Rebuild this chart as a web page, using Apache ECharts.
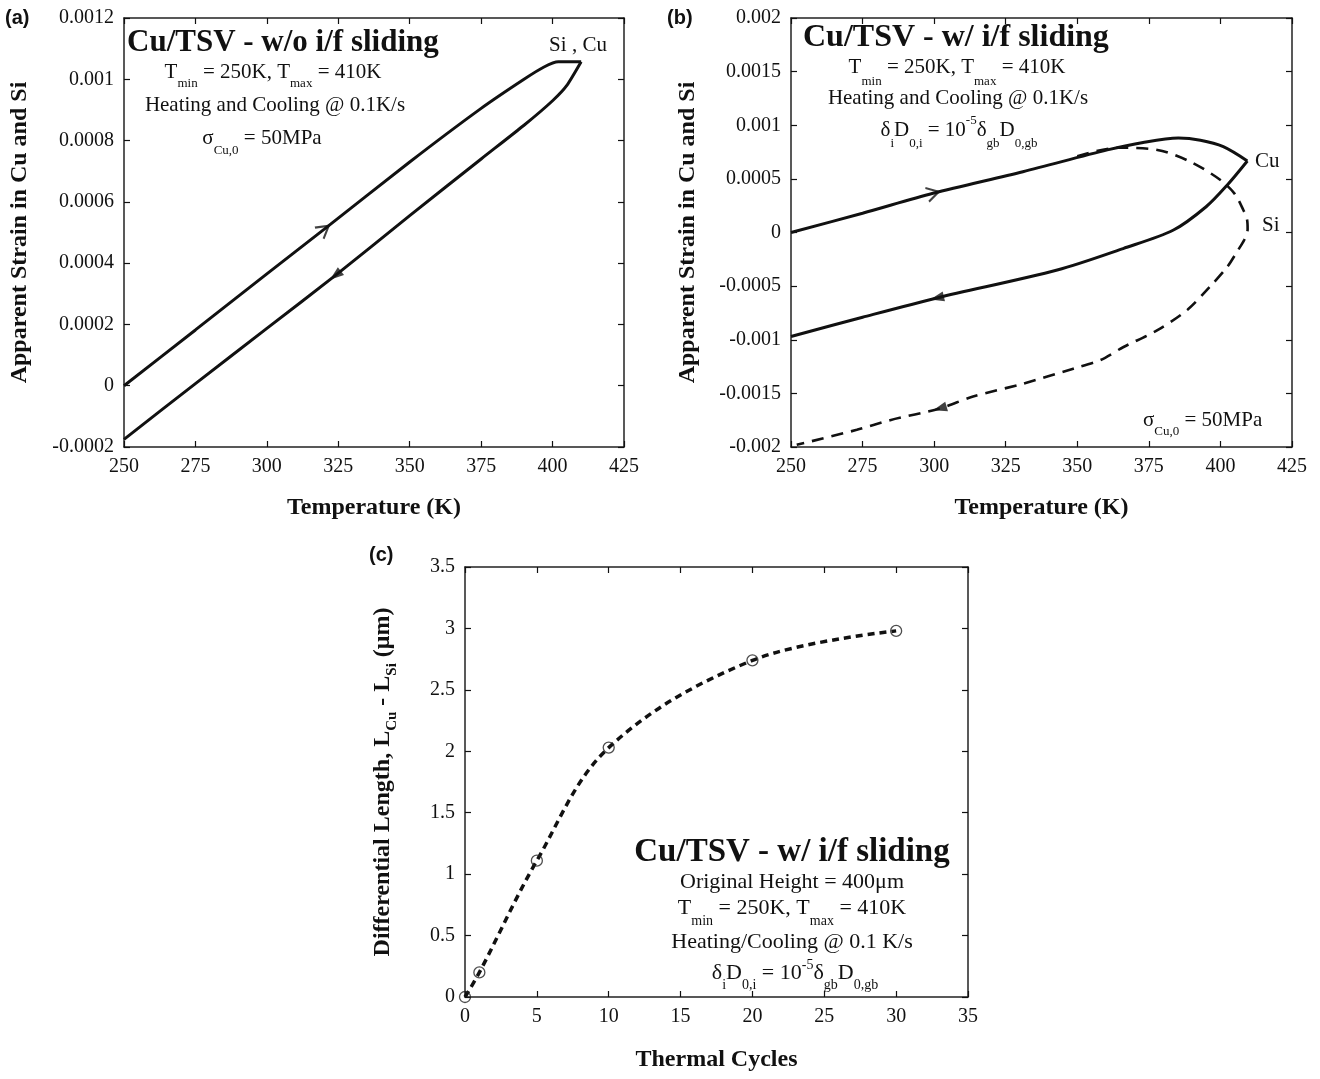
<!DOCTYPE html>
<html>
<head>
<meta charset="utf-8">
<script src="https://cdn.jsdelivr.net/npm/echarts@6/dist/echarts.min.js"></script>
<style>html,body{margin:0;padding:0;background:#fff}#c{width:1320px;height:1079px}</style>
</head>
<body>
<div id="c"></div>
<script>
// ---------- DATA ----------
// Panel (a): Cu/TSV without interface sliding
const aHeatT = [250, 275, 300, 320, 350, 375, 390, 397, 402, 410];
const aHeatS = [0, 0.000182, 0.000365, 0.00051, 0.00073, 0.000905, 0.001, 0.00104, 0.001057, 0.001057];
const aCoolT = [410, 405, 400, 390, 375, 350, 324, 300, 275, 250];
const aCoolS = [0.001057, 0.00098, 0.00093, 0.00085, 0.00074, 0.000555, 0.00036, 0.000187, 0.000007, -0.000175];
const aArrowHeat = [[320, 0.00051]];
const aArrowCool = [[324, 0.00036]];

// Panel (b): Cu/TSV with interface sliding
const bCuHeatT = [250, 275, 299.6, 331, 360.5, 373, 385.3, 393, 401, 409.4];
const bCuHeatS = [0, 0.00018, 0.000366, 0.000567, 0.00077, 0.00084, 0.00088, 0.00086, 0.0008, 0.000667];
const bCuCoolT = [409.4, 402.4, 395, 383.6, 366, 343, 301, 275, 250];
const bCuCoolS = [0.000667, 0.000443, 0.00024, 0.000023, -0.00015, -0.00035, -0.00061, -0.00079, -0.00097];
const bSiT = [350, 364, 378, 389.5, 400, 405, 408, 409.3, 409.5, 408.3, 406, 402.4, 396.5, 388.5, 378, 366, 358, 348.6, 331, 313.6, 302, 284.6, 273, 252];
const bSiS = [0.00071, 0.00079, 0.00077, 0.00066, 0.00049, 0.00036, 0.00021, 0.00012, 0.00003, -0.00007, -0.00017, -0.00032, -0.0005, -0.00072, -0.00091, -0.00107, -0.00119, -0.00127, -0.00141, -0.00153, -0.00164, -0.00175, -0.00184, -0.00198];
const bArrowCuHeat = [[299.6, 0.000366]];
const bArrowCuCool = [[301, -0.00061]];
const bArrowSi = [[302, -0.00164]];

// Panel (c): differential length vs thermal cycles
const cCycles = [0, 1, 5, 10, 20, 30];
const cLength = [0, 0.2, 1.11, 2.03, 2.74, 2.98];

// Axis ranges [min, max, interval]
const aXRange = [250, 425, 25], aYRange = [-0.0002, 0.0012, 0.0002];
const bXRange = [250, 425, 25], bYRange = [-0.002, 0.002, 0.0005];
const cXRange = [0, 35, 5], cYRange = [0, 3.5, 0.5];

// ---------- STYLE ----------
const SERIF = '"Liberation Serif","Times New Roman",serif';
const SANS = '"Liberation Sans",Arial,sans-serif';
const INK = '#111';

function zip(a, b) { return a.map((v, i) => [v, b[i]]); }
function fmt(v) { return String(parseFloat(v.toFixed(6))); }

function makeAxes(gi, xr, yr, xname, yname, xGap, yGap) {
  const tick = {inside: true, length: 6, lineStyle: {color: INK, width: 1.2}};
  const line = {show: true, onZero: false, lineStyle: {color: '#222', width: 1.5}};
  const lab = {fontFamily: SERIF, fontSize: 20, color: INK, margin: 10, formatter: fmt};
  const nameStyle = {fontFamily: SERIF, fontSize: 24, fontWeight: 'bold', color: INK};
  const common = {gridIndex: gi, type: 'value', splitLine: {show: false}, axisLine: line, axisTick: tick};
  const xs = [
    Object.assign({}, common, {position: 'bottom', min: xr[0], max: xr[1], interval: xr[2], axisLabel: lab,
      name: xname, nameLocation: 'middle', nameGap: xGap, nameTextStyle: nameStyle}),
    Object.assign({}, common, {position: 'top', min: xr[0], max: xr[1], interval: xr[2], axisLabel: {show: false}})
  ];
  const yMain = Object.assign({}, common, {position: 'left', min: yr[0], max: yr[1], interval: yr[2], axisLabel: lab});
  if (yname) Object.assign(yMain, {name: yname, nameLocation: 'middle', nameRotate: 90, nameGap: yGap, nameTextStyle: nameStyle});
  const ys = [
    yMain,
    Object.assign({}, common, {position: 'right', min: yr[0], max: yr[1], interval: yr[2], axisLabel: {show: false}})
  ];
  return {xs, ys};
}

const A = makeAxes(0, aXRange, aYRange, 'Temperature (K)', 'Apparent Strain in Cu and Si', 49, 92);
const B = makeAxes(1, bXRange, bYRange, 'Temperature (K)', 'Apparent Strain in Cu and Si', 49, 91);
const C = makeAxes(2, cXRange, cYRange, 'Thermal Cycles', null, 51, 0);

// rich text with subscripts (s) and superscripts (p), vertically offset via token box height
function txt(x, y, text, o) {
  const size = o.size;
  const drop = o.drop != null ? o.drop : Math.round(size * 0.55);
  const rise = o.rise != null ? o.rise : Math.round(size * 0.45);
  const bold = o.bold ? 'bold' : 'normal';
  const fam = o.family || SERIF;
  const base = size + 4;
  const subSize = o.subSize || Math.round(size * 0.62);
  const hs = base + 2 * drop, hp = Math.max(2, base - 2 * rise);
  const rich = {
    n: {fontFamily: fam, fontSize: size, fontWeight: bold, color: INK, height: base, lineHeight: base, verticalAlign: 'top'},
    s: {fontFamily: fam, fontSize: subSize, fontWeight: bold, color: INK, height: hs, lineHeight: hs, verticalAlign: 'top'},
    p: {fontFamily: fam, fontSize: subSize, fontWeight: bold, color: INK, height: hp, lineHeight: hp, verticalAlign: 'top'}
  };
  return {type: 'text', x: x, y: y, rotation: o.rot || 0, z: 100,
    style: {x: 0, y: -base / 2, text: text, rich: rich, align: o.align || 'center', verticalAlign: 'top', fill: INK}};
}

const graphics = [
  // panel labels
  txt(5, 18, '{n|(a)}', {size: 20, bold: true, family: SANS, align: 'left'}),
  txt(667, 18, '{n|(b)}', {size: 20, bold: true, family: SANS, align: 'left'}),
  txt(369, 555, '{n|(c)}', {size: 20, bold: true, family: SANS, align: 'left'}),
  // panel (a)
  txt(127, 43, '{n|Cu/TSV - w/o i/f sliding}', {size: 31, bold: true, align: 'left'}),
  txt(273, 72, '{n|T}{s|min}{n| = 250K, T}{s|max}{n| = 410K}', {size: 21, drop: 12}),
  txt(275, 105, '{n|Heating and Cooling @ 0.1K/s}', {size: 21}),
  txt(262, 138, '{n|σ}{s|Cu,0}{n| = 50MPa}', {size: 21, drop: 13}),
  txt(578, 45, '{n|Si , Cu}', {size: 21}),
  // panel (b)
  txt(803, 38, '{n|Cu/TSV - w/ i/f sliding}', {size: 32, bold: true, align: 'left'}),
  txt(957, 67, '{n|T}{s|min}{n| = 250K, T}{s|max}{n| = 410K}', {size: 21, drop: 15}),
  txt(958, 98, '{n|Heating and Cooling @ 0.1K/s}', {size: 21}),
  txt(959, 130, '{n|δ}{s|i}{n|D}{s|0,i}{n| = 10}{p|-5}{n|δ}{s|gb}{n|D}{s|0,gb}', {size: 21, drop: 14, rise: 9}),
  txt(1255, 161, '{n|Cu}', {size: 21, align: 'left'}),
  txt(1262, 225, '{n|Si}', {size: 21, align: 'left'}),
  txt(1143, 420, '{n|σ}{s|Cu,0}{n| = 50MPa}', {size: 21, drop: 12, align: 'left'}),
  // panel (c)
  txt(792, 852, '{n|Cu/TSV - w/ i/f sliding}', {size: 33, bold: true}),
  txt(792, 882, '{n|Original Height = 400μm}', {size: 22}),
  txt(792, 908, '{n|T}{s|min}{n| = 250K, T}{s|max}{n| = 410K}', {size: 22, drop: 13}),
  txt(792, 942, '{n|Heating/Cooling @ 0.1 K/s}', {size: 22}),
  txt(795, 973, '{n|δ}{s|i}{n|D}{s|0,i}{n| = 10}{p|-5}{n|δ}{s|gb}{n|D}{s|0,gb}', {size: 22, drop: 12, rise: 8}),
  // panel (c) y axis title
  txt(383, 782, '{n|Differential Length, L}{s|Cu}{n| - L}{s|Si}{n| (μm)}', {size: 24, bold: true, drop: 9, subSize: 15, rot: Math.PI / 2})
];

const lineW = 3;
const openArrow = 'path://M0,0L10,5L0,10';

const option = {
  animation: false,
  backgroundColor: '#fff',
  grid: [
    {left: 124, top: 18, width: 500, height: 429},
    {left: 791, top: 18, width: 501, height: 429},
    {left: 465, top: 567, width: 503, height: 430}
  ],
  xAxis: [...A.xs, ...B.xs, ...C.xs],
  yAxis: [...A.ys, ...B.ys, ...C.ys],
  series: [
    // (a)
    {type: 'line', xAxisIndex: 0, yAxisIndex: 0, data: zip(aHeatT, aHeatS), showSymbol: false, smooth: 0.2,
      lineStyle: {color: INK, width: lineW}},
    {type: 'line', xAxisIndex: 0, yAxisIndex: 0, data: zip(aCoolT, aCoolS), showSymbol: false, smooth: 0.2,
      lineStyle: {color: INK, width: lineW}},
    {type: 'scatter', xAxisIndex: 0, yAxisIndex: 0, data: aArrowHeat, symbol: openArrow, symbolSize: [12, 14], symbolRotate: 38,
      itemStyle: {color: 'rgba(0,0,0,0)', borderColor: INK, borderWidth: 2}, z: 5},
    {type: 'scatter', xAxisIndex: 0, yAxisIndex: 0, data: aArrowCool, symbol: 'triangle', symbolSize: [10, 14], symbolRotate: 128,
      itemStyle: {color: INK}, z: 5},
    // (b)
    {type: 'line', xAxisIndex: 2, yAxisIndex: 2, data: zip(bSiT, bSiS), showSymbol: false, smooth: 0.3,
      lineStyle: {color: INK, width: 2.6, type: [12, 8]}},
    {type: 'line', xAxisIndex: 2, yAxisIndex: 2, data: zip(bCuHeatT, bCuHeatS), showSymbol: false, smooth: 0.3,
      lineStyle: {color: INK, width: lineW}},
    {type: 'line', xAxisIndex: 2, yAxisIndex: 2, data: zip(bCuCoolT, bCuCoolS), showSymbol: false, smooth: 0.3,
      lineStyle: {color: INK, width: lineW}},
    {type: 'scatter', xAxisIndex: 2, yAxisIndex: 2, data: bArrowCuHeat, symbol: openArrow, symbolSize: [12, 14], symbolRotate: 15,
      itemStyle: {color: 'rgba(0,0,0,0)', borderColor: INK, borderWidth: 2}, z: 5},
    {type: 'scatter', xAxisIndex: 2, yAxisIndex: 2, data: bArrowCuCool, symbol: 'triangle', symbolSize: [10, 14], symbolRotate: 103,
      itemStyle: {color: INK}, z: 5},
    {type: 'scatter', xAxisIndex: 2, yAxisIndex: 2, data: bArrowSi, symbol: 'triangle', symbolSize: [10, 14], symbolRotate: 106,
      itemStyle: {color: INK}, z: 5},
    // (c)
    {type: 'line', xAxisIndex: 4, yAxisIndex: 4, data: zip(cCycles, cLength), showSymbol: false, smooth: 0.35,
      lineStyle: {color: INK, width: 3.5, type: [7, 5]}},
    {type: 'scatter', xAxisIndex: 4, yAxisIndex: 4, data: zip(cCycles, cLength), symbol: 'circle', symbolSize: 11,
      itemStyle: {color: 'rgba(255,255,255,0)', borderColor: '#222', borderWidth: 1.3}, z: 5}
  ],
  graphic: graphics
};

const chart = echarts.init(document.getElementById('c'), null, {renderer: 'canvas'});
chart.setOption(option);
</script>
</body>
</html>
